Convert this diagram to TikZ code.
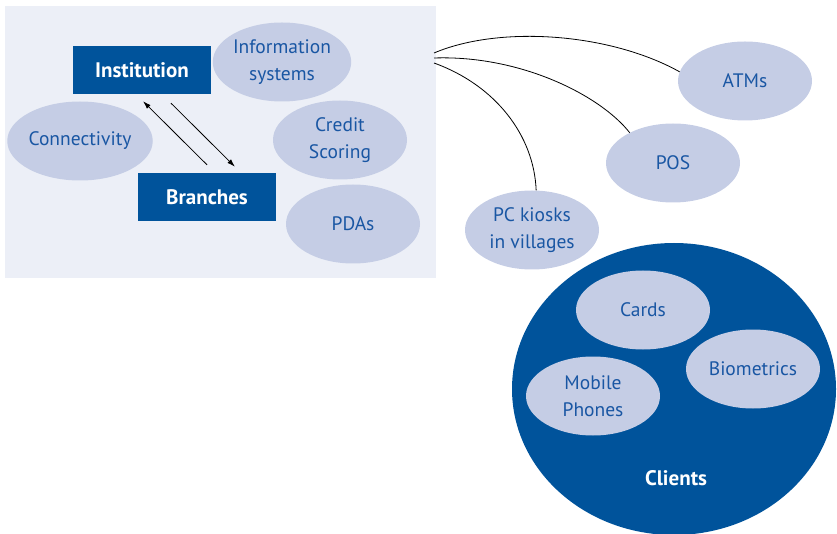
\documentclass[tikz,border=0pt]{standalone}
\usepackage{fontspec}
\setmainfont{PT Sans}
\usetikzlibrary{shapes.geometric,arrows.meta}
\definecolor{bankblue}{RGB}{0,83,155}
\definecolor{bubble}{RGB}{197,205,229}
\definecolor{panel}{RGB}{236,239,247}
\definecolor{bubbletext}{RGB}{25,86,163}
\begin{document}
\begin{tikzpicture}[x=1pt,y=-1pt,
	bubblenode/.style={ellipse,fill=bubble,text=bubbletext,minimum width=134pt,minimum height=79pt,inner sep=0pt,align=center,font=\fontsize{19.5}{27}\selectfont},
	bankbox/.style={fill=bankblue,text=white,minimum width=138pt,minimum height=48pt,inner sep=0pt,font=\fontsize{21}{27}\selectfont\bfseries},
	link/.style={line width=0.8pt,black},
	arr/.style={link,-{Latex[length=8pt,width=5pt]}}]
	\useasboundingbox (0,0) rectangle (837,534) ;
	\fill[panel] (5,6) rectangle (436,278) ;
	\node[bankbox] (inst) at (142,70) {Institution} ;
	\node[bankbox] (branch) at (207,197) {Branches} ;
	\node[bubblenode] (infosys) at (282,62) {Information\\systems} ;
	\node[bubblenode] (connect) at (80,141) {Connectivity} ;
	\node[bubblenode] (credit) at (340,140) {Credit\\Scoring} ;
	\node[bubblenode] (pda) at (353,224) {PDAs} ;
	\draw[arr] ([yshift=8pt]branch.north) -- ([xshift=1pt,yshift=-7pt]inst.south) ;
	\draw[arr] ([xshift=29pt,yshift=-9pt]inst.south) -- ([xshift=28pt,yshift=6pt]branch.north) ;
	% channels
	\node[bubblenode] (atm) at (745,81) {ATMs} ;
	\node[bubblenode] (pos) at (673,163) {POS} ;
	\node[bubblenode] (kiosk) at (532,230) {PC kiosks\\in villages} ;
	\coordinate (hubA) at (434,53) ; \coordinate (hubB) at (434,58) ; \coordinate (hubC) at (434,63) ;
	\draw[link] (hubA) .. controls (500,25) and (610,33) .. (atm.172) ;
	\draw[link] (hubB) .. controls (520,55) and (600,95) .. (pos.145) ;
	\draw[link] (hubC) .. controls (495,85) and (534,135) .. (kiosk.84) ;
	% clients
	\node[ellipse,fill=bankblue,minimum width=324pt,minimum height=292pt,inner sep=0pt] (clients) at (674,389) {} ;
	\node[bubblenode] (cards) at (643,310) {Cards} ;
	\node[bubblenode] (mobile) at (593,396) {Mobile\\Phones} ;
	\node[bubblenode] (bio) at (753,369) {Biometrics} ;
	\node[text=white,font=\fontsize{21}{27}\selectfont\bfseries] (clientlbl) at (676,478) {Clients} ;
\end{tikzpicture}
\end{document}
